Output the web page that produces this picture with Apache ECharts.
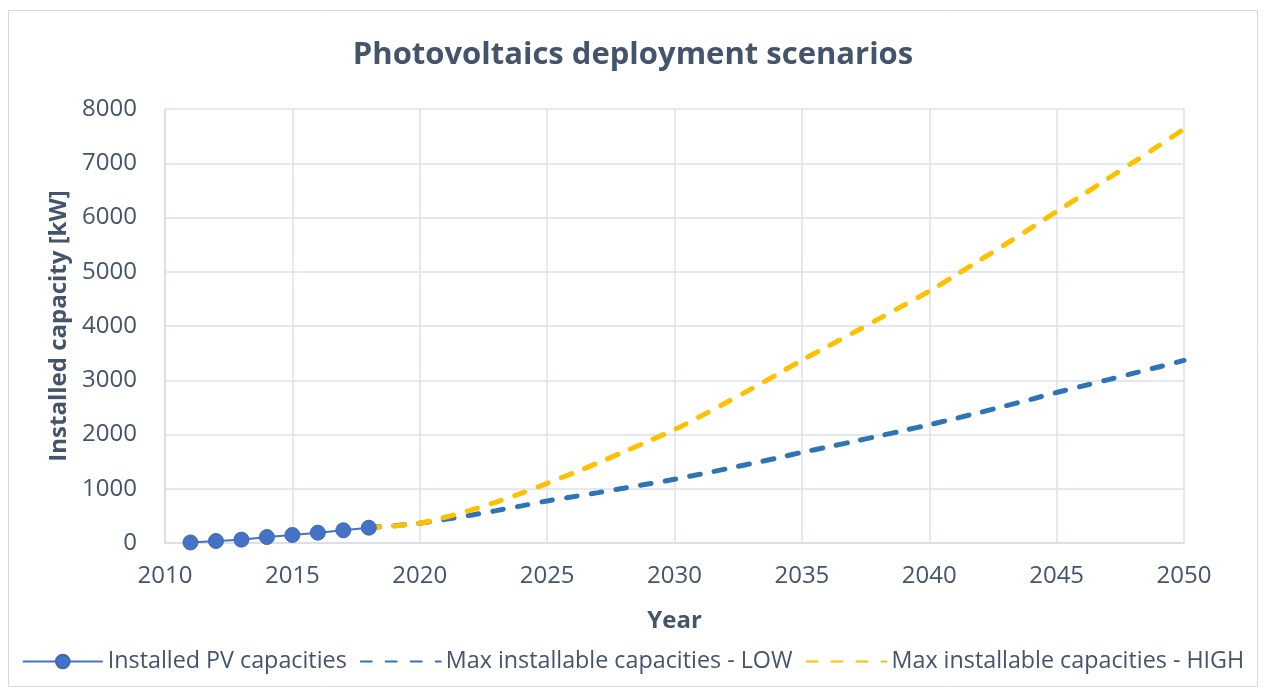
<!DOCTYPE html>
<html><head><meta charset="utf-8">
<script src="https://cdn.jsdelivr.net/npm/echarts@6/dist/echarts.min.js"></script>
<style>html,body{margin:0;padding:0;background:#fff}#c{width:1266px;height:695px}</style>
</head><body><div id="c"></div>
<script>
const installedYears = [2011,2012,2013,2014,2015,2016,2017,2018];
const installedValues = [10,37,62,110,148,190,234,282];
const scenarioYears = [2018,2019,2020,2021,2022,2023,2024,2025,2026,2027,2028,2029,2030,2031,2032,2033,2034,2035,2036,2037,2038,2039,2040,2041,2042,2043,2044,2045,2046,2047,2048,2049,2050];
const lowValues = [282,320,365,435,513,597,685,775,851,929,1009,1091,1175,1267,1363,1462,1564,1670,1768,1868,1970,2074,2180,2292,2408,2527,2649,2775,2891,3008,3126,3245,3365];
const highValues = [282,315,365,475,605,755,920,1100,1285,1478,1678,1881,2090,2330,2580,2836,3100,3370,3620,3872,4126,4382,4640,4925,5215,5510,5808,6110,6410,6712,7016,7322,7630];
const seriesNames = ['Installed PV capacities','Max installable capacities - LOW','Max installable capacities - HIGH'];

const font = '"Open Sans", sans-serif';
const txt = '#44546A';
const pair = (xs, ys) => xs.map((x, i) => [x, ys[i]]);

const chart = echarts.init(document.getElementById('c'), null, {renderer: 'canvas'});
chart.setOption({
  animation: false,
  backgroundColor: '#fff',
  graphic: [{type: 'rect', shape: {x: 8.5, y: 10.5, width: 1249, height: 676}, style: {fill: 'none', stroke: '#D9D9D9', lineWidth: 1}, silent: true}],
  title: {text: 'Photovoltaics deployment scenarios', left: 'center', top: 35,
    textStyle: {fontFamily: font, fontWeight: 'bold', fontSize: 31, color: txt}},
  grid: {left: 165, right: 82, top: 109, bottom: 152, containLabel: false},
  legend: {top: 645, left: 'center', itemGap: 13, itemWidth: 80, itemHeight: 17,
    textStyle: {fontFamily: font, fontSize: 23.3, color: txt},
    data: [
      {name: seriesNames[0]},
      {name: seriesNames[1], itemStyle: {color: 'transparent', borderWidth: 0, opacity: 0}},
      {name: seriesNames[2], itemStyle: {color: 'transparent', borderWidth: 0, opacity: 0}}
    ]},
  xAxis: {type: 'value', min: 2010, max: 2050, interval: 5,
    name: 'Year', nameLocation: 'middle', nameGap: 66,
    nameTextStyle: {fontFamily: font, fontWeight: 'bold', fontSize: 24, color: txt},
    axisLine: {show: true, lineStyle: {color: '#D9DDE4', width: 1.5}},
    axisTick: {show: false},
    axisLabel: {fontFamily: font, fontSize: 24, color: txt, margin: 21, formatter: v => String(v)},
    splitLine: {show: true, lineStyle: {color: '#DDE1E8', width: 1.5}}},
  yAxis: {type: 'value', min: 0, max: 8000, interval: 1000,
    name: 'Installed capacity [kW]', nameLocation: 'middle', nameGap: 93, nameRotate: 90,
    nameTextStyle: {fontFamily: font, fontWeight: 'bold', fontSize: 24, color: txt},
    axisLine: {show: true, lineStyle: {color: '#D9DDE4', width: 1.5}},
    axisTick: {show: false},
    axisLabel: {fontFamily: font, fontSize: 24, color: txt, margin: 28, formatter: v => String(v)},
    splitLine: {show: true, lineStyle: {color: '#DDE1E8', width: 1.5}}},
  series: [
    {name: seriesNames[0], type: 'line', data: pair(installedYears, installedValues),
      symbol: 'circle', symbolSize: 15, z: 5,
      lineStyle: {color: '#4472C4', width: 2},
      itemStyle: {color: '#4472C4', borderColor: '#3F69B5', borderWidth: 1}},
    {name: seriesNames[1], type: 'line', data: pair(scenarioYears, lowValues),
      symbol: 'none', smooth: 0.3, z: 3,
      lineStyle: {color: '#2E75B6', width: 5, type: [11, 14], cap: 'round'},
      itemStyle: {color: '#2E75B6'}},
    {name: seriesNames[2], type: 'line', data: pair(scenarioYears, highValues),
      symbol: 'none', smooth: 0.3, z: 4,
      lineStyle: {color: '#FFC000', width: 5, type: [11, 14], cap: 'round'},
      itemStyle: {color: '#FFC000'}}
  ]
});
</script></body></html>
